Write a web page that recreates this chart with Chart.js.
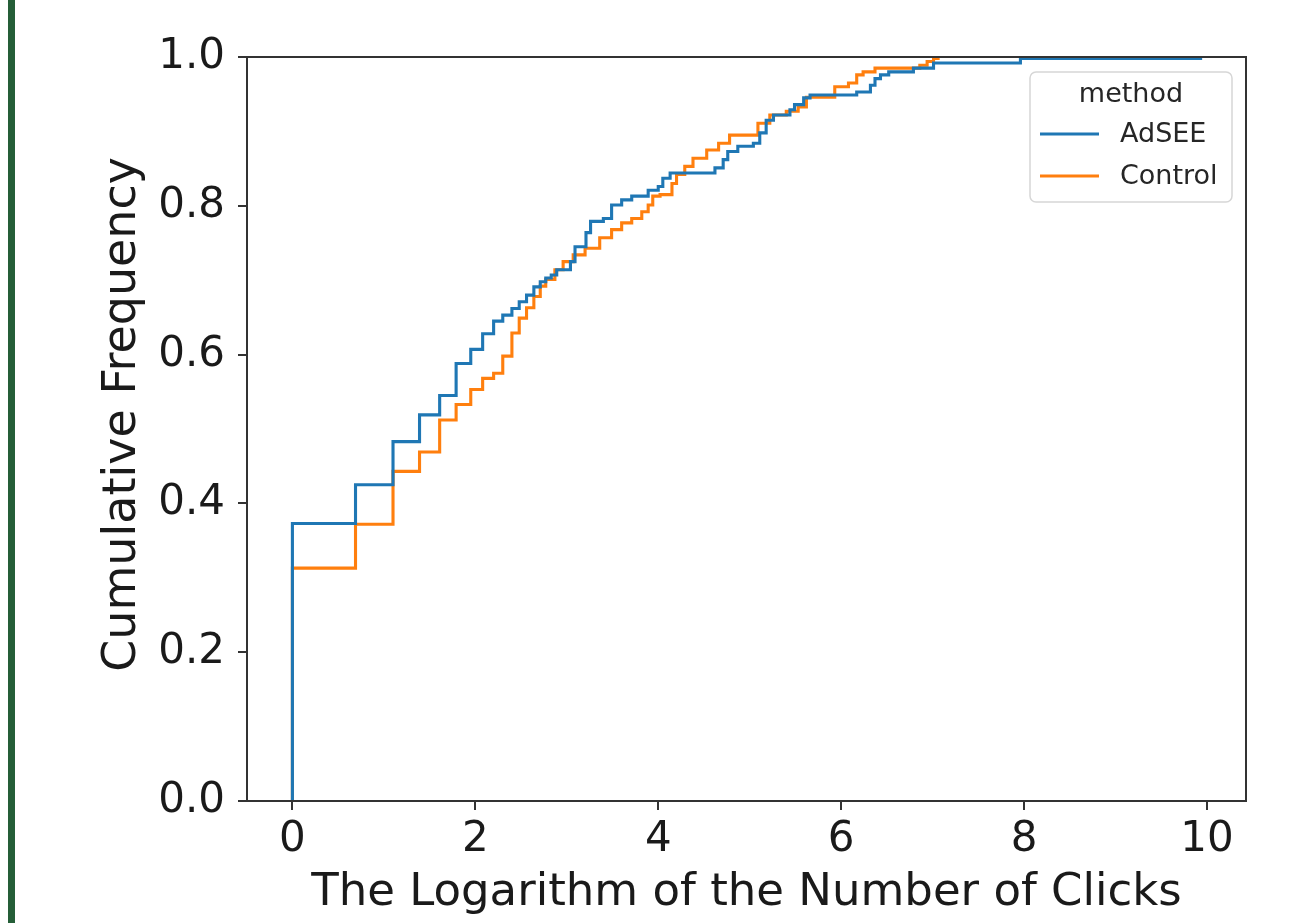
<!DOCTYPE html>
<html>
<head>
<meta charset="utf-8">
<script src="https://cdn.jsdelivr.net/npm/chart.js@4.4.1/dist/chart.umd.min.js"></script>
<style>
    html, body { margin: 0; padding: 0; background: #ffffff; }
    #wrap { position: relative; width: 1291px; height: 923px; }
    #strip { position: absolute; left: 8px; top: 0; width: 7px; height: 923px; background: #255e38; }
</style>
</head>
<body>
<div id="wrap">
    <canvas id="ecdfChart" width="1291" height="923"></canvas>
    <div id="strip"></div>
</div>
<script>
// ECDF step points (x = log of clicks)
const adseeX = [0, 0, 0.69, 1.10, 1.39, 1.61, 1.79, 1.95, 2.08, 2.20, 2.30, 2.40, 2.48, 2.56, 2.64, 2.71, 2.77, 2.83, 2.89, 3.04, 3.09, 3.21, 3.26, 3.40, 3.49, 3.60, 3.71, 3.89, 4.00, 4.05, 4.13, 4.62, 4.71, 4.76, 4.87, 5.04, 5.11, 5.18, 5.26, 5.44, 5.49, 5.59, 5.66, 6.17, 6.32, 6.37, 6.43, 6.52, 6.79, 7.01, 7.96, 9.93];
const adseeY = [0, 0.373, 0.425, 0.483, 0.519, 0.545, 0.588, 0.607, 0.628, 0.645, 0.653, 0.662, 0.671, 0.680, 0.691, 0.698, 0.703, 0.707, 0.714, 0.725, 0.745, 0.764, 0.779, 0.783, 0.801, 0.808, 0.813, 0.821, 0.826, 0.837, 0.844, 0.851, 0.862, 0.873, 0.880, 0.884, 0.898, 0.915, 0.922, 0.929, 0.936, 0.945, 0.949, 0.953, 0.962, 0.971, 0.976, 0.980, 0.985, 0.992, 0.998, 1.0];

const controlX = [0, 0, 0.69, 1.10, 1.39, 1.61, 1.79, 1.95, 2.08, 2.20, 2.30, 2.40, 2.48, 2.56, 2.64, 2.71, 2.77, 2.87, 2.96, 3.07, 3.20, 3.36, 3.49, 3.60, 3.71, 3.82, 3.89, 3.94, 4.02, 4.15, 4.20, 4.29, 4.38, 4.53, 4.66, 4.78, 5.09, 5.22, 5.40, 5.53, 5.62, 5.93, 6.08, 6.17, 6.24, 6.37, 6.86, 6.94, 7.01, 7.06];
const controlY = [0, 0.313, 0.372, 0.443, 0.469, 0.512, 0.533, 0.553, 0.568, 0.575, 0.598, 0.629, 0.649, 0.663, 0.678, 0.692, 0.701, 0.714, 0.725, 0.734, 0.743, 0.757, 0.768, 0.777, 0.783, 0.792, 0.801, 0.813, 0.815, 0.830, 0.842, 0.853, 0.864, 0.875, 0.884, 0.895, 0.911, 0.922, 0.927, 0.933, 0.946, 0.960, 0.965, 0.976, 0.980, 0.985, 0.989, 0.994, 0.998, 1.0];

const seriesNames = ['AdSEE', 'Control'];
const seriesColors = ['#1f77b4', '#ff7f0e'];
const legendTitle = 'method';
const xTicks = [0, 2, 4, 6, 8, 10];
const yTicks = [0, 0.2, 0.4, 0.6, 0.8, 1.0];

const FONT = 'DejaVu Sans';
const INK = '#1a1a1a';

const toPoints = (xs, ys) => xs.map((x, i) => ({ x: x, y: ys[i] }));

// frame around the plot + matplotlib-like legend
const framePlugin = {
    id: 'frame',
    afterDatasetsDraw(chart) {
        const { ctx, chartArea } = chart;
        ctx.save();
        ctx.strokeStyle = '#333333';
        ctx.lineWidth = 2;
        ctx.strokeRect(chartArea.left, chartArea.top, chartArea.right - chartArea.left, chartArea.bottom - chartArea.top);
        ctx.restore();
    },
    afterDraw(chart) {
        const { ctx } = chart;
        const bx = 1030, by = 72, bw = 202, bh = 130, r = 6;
        ctx.save();
        ctx.beginPath();
        ctx.moveTo(bx + r, by);
        ctx.arcTo(bx + bw, by, bx + bw, by + bh, r);
        ctx.arcTo(bx + bw, by + bh, bx, by + bh, r);
        ctx.arcTo(bx, by + bh, bx, by, r);
        ctx.arcTo(bx, by, bx + bw, by, r);
        ctx.closePath();
        ctx.fillStyle = 'rgba(255,255,255,0.8)';
        ctx.fill();
        ctx.strokeStyle = '#d6d6d6';
        ctx.lineWidth = 1.5;
        ctx.stroke();

        ctx.font = '27px "' + FONT + '"';
        ctx.fillStyle = '#262626';
        ctx.textBaseline = 'middle';
        ctx.textAlign = 'center';
        ctx.fillText(legendTitle, bx + bw / 2, 95);

        const rows = [134, 176];
        ctx.textAlign = 'left';
        seriesNames.forEach((name, i) => {
            ctx.strokeStyle = seriesColors[i];
            ctx.lineWidth = 3;
            ctx.beginPath();
            ctx.moveTo(1040, rows[i]);
            ctx.lineTo(1099, rows[i]);
            ctx.stroke();
            ctx.fillText(name, 1120, rows[i] + 1);
        });
        ctx.restore();
    }
};

document.addEventListener('DOMContentLoaded', () => {
    const ctx = document.getElementById('ecdfChart').getContext('2d');
    new Chart(ctx, {
        type: 'line',
        data: {
            datasets: [{
                label: seriesNames[0],
                data: toPoints(adseeX, adseeY),
                borderColor: seriesColors[0],
                borderWidth: 3.1,
                stepped: true,
                fill: false,
                pointRadius: 0
            }, {
                label: seriesNames[1],
                data: toPoints(controlX, controlY),
                borderColor: seriesColors[1],
                borderWidth: 3.1,
                stepped: true,
                fill: false,
                pointRadius: 0
            }]
        },
        options: {
            responsive: false,
            animation: false,
            layout: {
                padding: { left: 0, top: 57, right: 45, bottom: 0 }
            },
            scales: {
                x: {
                    type: 'linear',
                    min: -0.4965,
                    max: 10.4265,
                    afterBuildTicks: (scale) => { scale.ticks = xTicks.map(v => ({ value: v })); },
                    afterFit: (scale) => { scale.height = 122; },
                    border: { display: false },
                    grid: {
                        drawOnChartArea: false,
                        tickLength: 9,
                        tickColor: '#333333',
                        lineWidth: 2
                    },
                    ticks: {
                        color: INK,
                        padding: 5,
                        maxRotation: 0,
                        font: { family: FONT, size: 42 },
                        callback: (v) => String(v)
                    },
                    title: {
                        display: true,
                        text: 'The Logarithm of the Number of Clicks',
                        color: INK,
                        font: { family: FONT, size: 45 },
                        padding: { top: 0, bottom: 3 }
                    }
                },
                y: {
                    type: 'linear',
                    min: 0,
                    max: 1,
                    afterBuildTicks: (scale) => { scale.ticks = yTicks.map(v => ({ value: v })); },
                    afterFit: (scale) => { scale.width = 247; },
                    border: { display: false },
                    grid: {
                        drawOnChartArea: false,
                        tickLength: 9,
                        tickColor: '#333333',
                        lineWidth: 2
                    },
                    ticks: {
                        color: INK,
                        padding: 13,
                        font: { family: FONT, size: 42 },
                        callback: (v) => Number(v).toFixed(1)
                    },
                    title: {
                        display: true,
                        text: '  Cumulative Frequency',
                        color: INK,
                        font: { family: FONT, size: 46 },
                        padding: { top: 95, bottom: 0 }
                    }
                }
            },
            plugins: {
                legend: { display: false },
                tooltip: { enabled: false }
            }
        },
        plugins: [framePlugin]
    });
});
</script>
</body>
</html>
